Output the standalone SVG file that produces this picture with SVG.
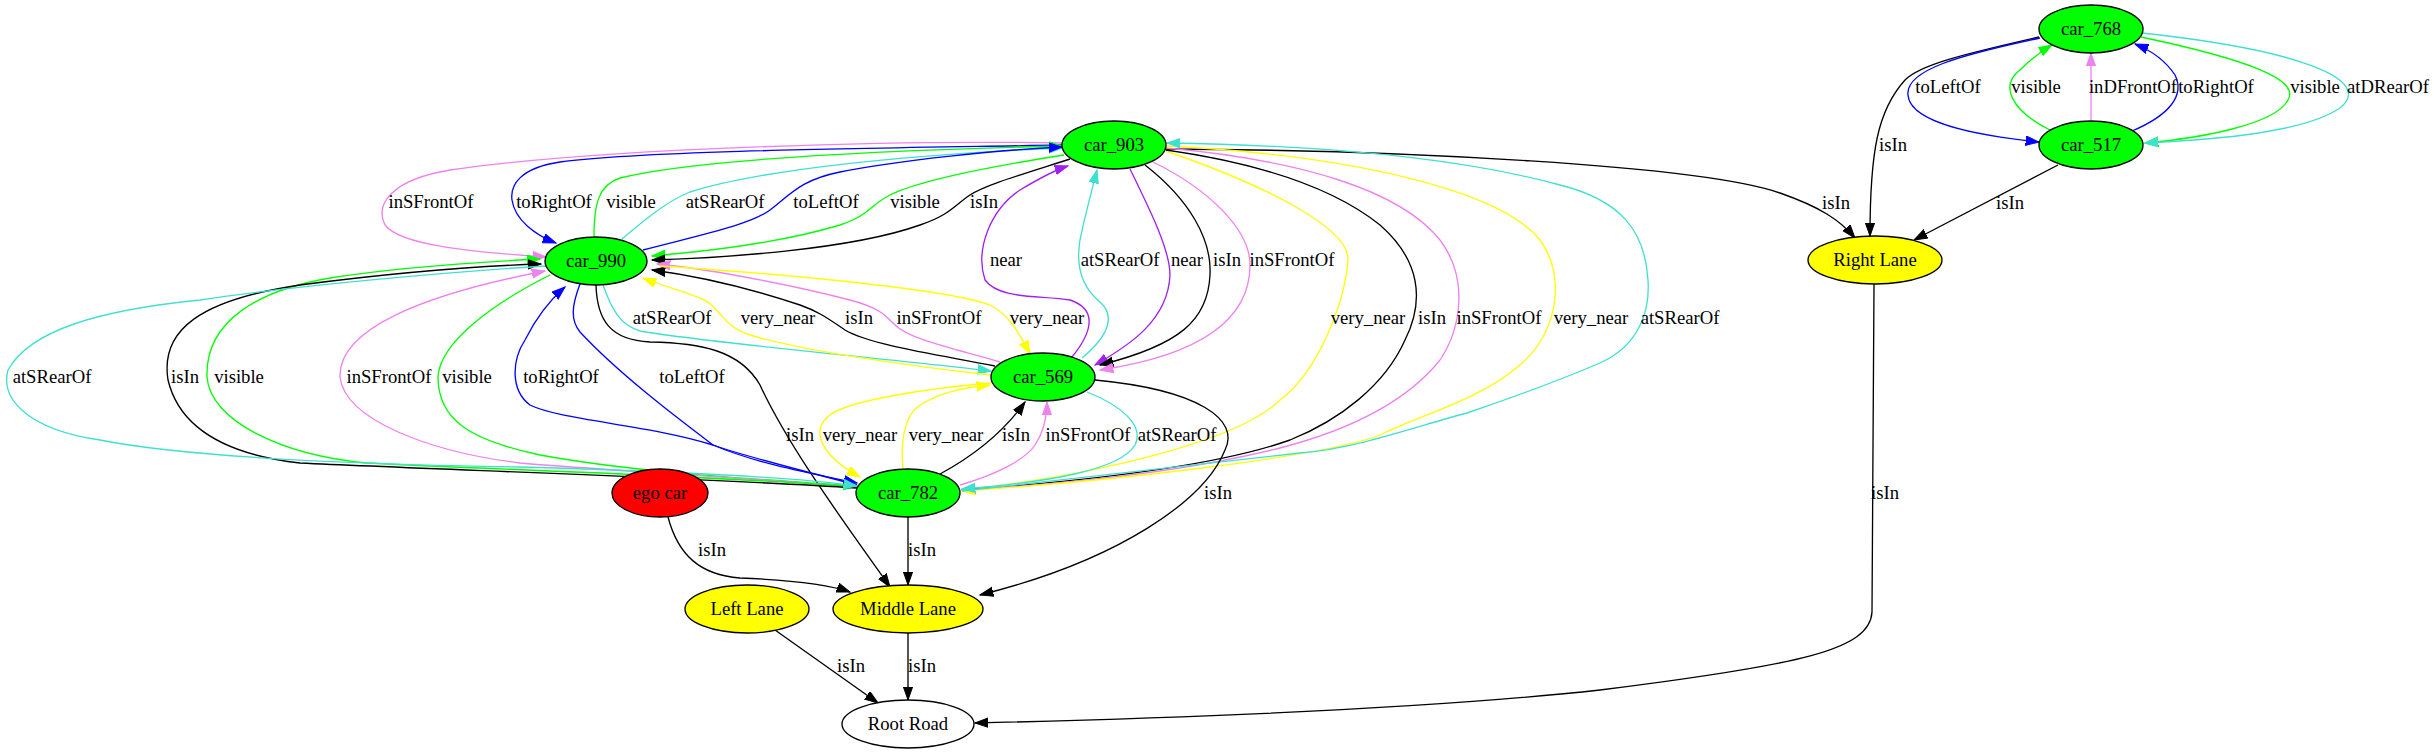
<svg xmlns="http://www.w3.org/2000/svg" width="2434" height="755" viewBox="0 0 2434 755">
<style>
text{font-family:"Liberation Serif","Times New Roman",serif;font-size:18.67px;text-anchor:middle;fill:#000}
.n ellipse{stroke:#000;stroke-width:1.33}
.e path{fill:none;stroke-width:1.33}
.k{stroke:#000;marker-end:url(#ak)}
.b{stroke:#0000ff;marker-end:url(#ab)}
.g{stroke:#00ff00;marker-end:url(#ag)}
.v{stroke:#ee82ee;marker-end:url(#av)}
.c{stroke:#40e0d0;marker-end:url(#ac)}
.y{stroke:#ffff00;marker-end:url(#ay)}
.p{stroke:#a020f0;marker-end:url(#ap)}
</style>
<defs>
<marker id="ak" markerUnits="userSpaceOnUse" markerWidth="15" markerHeight="11" refX="13.3" refY="5" orient="auto"><path d="M0,0.3 L13.3,5 L0,9.7 z" fill="#000" stroke="#000"/></marker>
<marker id="ab" markerUnits="userSpaceOnUse" markerWidth="15" markerHeight="11" refX="13.3" refY="5" orient="auto"><path d="M0,0.3 L13.3,5 L0,9.7 z" fill="#0000ff" stroke="#0000ff"/></marker>
<marker id="ag" markerUnits="userSpaceOnUse" markerWidth="15" markerHeight="11" refX="13.3" refY="5" orient="auto"><path d="M0,0.3 L13.3,5 L0,9.7 z" fill="#00ff00" stroke="#00ff00"/></marker>
<marker id="av" markerUnits="userSpaceOnUse" markerWidth="15" markerHeight="11" refX="13.3" refY="5" orient="auto"><path d="M0,0.3 L13.3,5 L0,9.7 z" fill="#ee82ee" stroke="#ee82ee"/></marker>
<marker id="ac" markerUnits="userSpaceOnUse" markerWidth="15" markerHeight="11" refX="13.3" refY="5" orient="auto"><path d="M0,0.3 L13.3,5 L0,9.7 z" fill="#40e0d0" stroke="#40e0d0"/></marker>
<marker id="ay" markerUnits="userSpaceOnUse" markerWidth="15" markerHeight="11" refX="13.3" refY="5" orient="auto"><path d="M0,0.3 L13.3,5 L0,9.7 z" fill="#ffff00" stroke="#ffff00"/></marker>
<marker id="ap" markerUnits="userSpaceOnUse" markerWidth="15" markerHeight="11" refX="13.3" refY="5" orient="auto"><path d="M0,0.3 L13.3,5 L0,9.7 z" fill="#a020f0" stroke="#a020f0"/></marker>
</defs>
<rect width="2434" height="755" fill="#fff"/>
<g id="connectors" class="e">
<!-- car_768 / car_517 cluster -->
<path class="k" d="M2039,37 C1960,55 1920,65 1905,80 C1878,110 1870,150 1870,236"/>
<path class="b" d="M2040,38 C1960,55 1905,70 1908,95 C1910,125 1990,137 2039,142"/>
<path class="g" d="M2050,130 C2010,110 2000,85 2020,70 C2030,60 2040,52 2052,45"/>
<path class="v" d="M2091,120 L2091,53"/>
<path class="b" d="M2132,131 C2170,115 2185,95 2175,75 C2165,60 2150,50 2135,44"/>
<path class="g" d="M2141,37 C2250,60 2300,80 2288,100 C2275,125 2200,138 2145,143"/>
<path class="c" d="M2142,33 C2300,50 2375,80 2340,108 C2300,135 2200,140 2145,143"/>
<path class="k" d="M2058,165 L1914,240"/>
<path class="k" d="M1164,149 C1400,150 1700,165 1780,193 C1820,207 1840,220 1855,238"/>
<path class="k" d="M1874,284 L1872,612 C1870,650 1800,665 1600,690 C1400,712 1100,720 975,723"/>
<!-- car_903 <-> car_990 top arcs -->
<path class="v" d="M1062,143 C900,140 600,148 450,170 C390,180 375,205 385,225 C400,245 470,252 546,257"/>
<path class="b" d="M1062,145 C900,148 650,150 560,162 C520,168 510,185 512,200 C515,220 535,235 556,243"/>
<path class="g" d="M594,237 C594,205 598,185 620,178 C700,158 900,150 1062,146"/>
<path class="c" d="M622,239 C650,215 670,200 690,192 C760,170 900,155 1062,148"/>
<path class="b" d="M643,250 C700,235 750,225 770,210 C790,195 800,180 840,172 C900,160 1000,150 1062,147"/>
<path class="g" d="M1064,155 C1000,165 920,180 890,195 C870,205 870,215 840,225 C780,243 700,252 652,256"/>
<path class="k" d="M1070,159 C1020,175 985,185 970,195 C955,205 950,215 920,225 C850,250 720,258 652,260"/>
<!-- car_990 <-> car_569 -->
<path class="c" d="M603,285 C612,310 620,325 640,331 C700,342 900,360 991,371"/>
<path class="y" d="M991,375 C900,365 800,350 750,335 C720,325 720,305 700,298 C680,290 660,285 643,278"/>
<path class="k" d="M995,366 C940,355 870,345 845,330 C830,320 820,312 800,305 C740,285 690,275 652,270"/>
<path class="v" d="M1000,362 C960,350 910,340 895,325 C885,315 880,308 850,300 C780,282 700,268 657,264"/>
<path class="y" d="M660,266 C800,275 950,290 990,305 C1010,315 1020,335 1030,354"/>
<!-- car_903 <-> car_569 -->
<path class="p" d="M1072,357 C1090,335 1100,310 1070,300 C1040,295 1000,300 985,280 C975,250 990,210 1020,190 C1040,178 1055,170 1068,166"/>
<path class="c" d="M1082,358 C1110,335 1115,315 1100,302 C1085,290 1075,270 1080,240 C1085,215 1092,190 1097,170"/>
<path class="p" d="M1130,169 C1150,210 1170,250 1170,275 C1168,320 1130,345 1095,365"/>
<path class="k" d="M1145,165 C1190,200 1212,240 1210,275 C1208,320 1180,345 1100,365"/>
<path class="v" d="M1153,162 C1210,190 1250,230 1250,265 C1250,320 1200,355 1100,370"/>
<!-- car_903 <-> car_782 -->
<path class="y" d="M1166,151 C1250,180 1350,225 1348,260 C1345,300 1320,370 1280,400 C1240,440 1100,475 962,490"/>
<path class="k" d="M1166,150 C1250,162 1330,185 1380,225 C1420,260 1425,300 1405,340 C1385,385 1340,420 1290,440 C1220,465 1100,480 962,490"/>
<path class="v" d="M1166,148 C1300,160 1400,190 1440,240 C1470,280 1460,330 1440,360 C1400,410 1330,435 1280,448 C1200,468 1100,482 962,490"/>
<path class="y" d="M1166,146 C1350,155 1500,190 1540,240 C1565,275 1560,330 1520,365 C1480,400 1420,415 1380,435 C1320,458 1100,482 962,491"/>
<path class="c" d="M962,491 L1300,453 C1360,448 1420,425 1467,413 C1520,395 1560,380 1600,363 C1640,345 1650,310 1648,280 C1645,230 1620,200 1560,185 C1450,155 1300,145 1167,143"/>
<!-- car_569 <-> car_782 -->
<path class="y" d="M991,383 C930,388 850,400 830,415 C810,430 820,455 860,477"/>
<path class="y" d="M903,469 C900,440 905,415 920,405 C940,393 960,388 990,385"/>
<path class="k" d="M940,474 C975,455 1005,430 1025,402"/>
<path class="v" d="M960,485 C995,475 1025,460 1035,445 C1045,430 1047,415 1047,402"/>
<path class="c" d="M1087,392 C1120,405 1145,425 1135,445 C1120,470 1050,482 962,489"/>
<!-- lanes -->
<path class="k" d="M1095,380 C1200,390 1240,420 1225,450 C1205,500 1120,560 980,595"/>
<path class="k" d="M596,285 C597,320 610,340 650,342 C700,343 740,350 760,385 C790,450 850,530 890,587"/>
<path class="k" d="M908,517 L908,585"/>
<path class="k" d="M668,517 C678,555 700,575 740,578 C790,580 830,585 850,592"/>
<path class="k" d="M908,633 L908,700"/>
<path class="k" d="M775,630 L878,703"/>
<!-- car_990 <-> car_782 -->
<path class="b" d="M857,485 C800,470 740,455 713,445 C650,425 560,420 530,405 C510,390 512,360 525,340 C535,320 550,300 565,287"/>
<path class="b" d="M580,284 C572,305 570,320 580,332 C620,375 680,420 713,445 C760,465 820,475 857,483"/>
<path class="g" d="M550,275 C500,300 440,340 438,377 C438,420 470,440 540,455 C650,475 780,480 857,486"/>
<path class="v" d="M857,487 C750,478 600,470 520,463 C430,452 345,420 340,377 C338,330 420,295 545,271"/>
<path class="g" d="M857,487 C700,475 500,470 367,463 C280,455 210,420 207,377 C205,320 260,290 330,278 C400,267 480,262 540,259"/>
<path class="k" d="M857,488 C700,478 450,470 300,463 C230,455 180,430 168,380 C160,330 200,300 300,285 C400,272 480,266 541,264"/>
<path class="c" d="M546,266 C450,272 300,285 200,300 C100,310 30,330 8,370 C0,400 30,430 100,440 C200,460 400,465 520,467 C700,472 800,478 857,486"/>
</g>
<g id="edge-labels">
<text x="1893" y="151">isIn</text>
<text x="1948" y="93">toLeftOf</text>
<text x="2036" y="93">visible</text>
<text x="2133" y="93">inDFrontOf</text>
<text x="2216" y="93">toRightOf</text>
<text x="2315" y="93">visible</text>
<text x="2388" y="93">atDRearOf</text>
<text x="2010" y="209">isIn</text>
<text x="1836" y="209">isIn</text>
<text x="1885" y="499">isIn</text>
<text x="431" y="208">inSFrontOf</text>
<text x="554" y="208">toRightOf</text>
<text x="631" y="208">visible</text>
<text x="725" y="208">atSRearOf</text>
<text x="826" y="208">toLeftOf</text>
<text x="915" y="208">visible</text>
<text x="984" y="208">isIn</text>
<text x="672" y="324">atSRearOf</text>
<text x="778" y="324">very_near</text>
<text x="859" y="324">isIn</text>
<text x="939" y="324">inSFrontOf</text>
<text x="1047" y="324">very_near</text>
<text x="1006" y="266">near</text>
<text x="1120" y="266">atSRearOf</text>
<text x="1187" y="266">near</text>
<text x="1227" y="266">isIn</text>
<text x="1292" y="266">inSFrontOf</text>
<text x="1368" y="324">very_near</text>
<text x="1432" y="324">isIn</text>
<text x="1499" y="324">inSFrontOf</text>
<text x="1591" y="324">very_near</text>
<text x="1680" y="324">atSRearOf</text>
<text x="860" y="441">very_near</text>
<text x="946" y="441">very_near</text>
<text x="1016" y="441">isIn</text>
<text x="1088" y="441">inSFrontOf</text>
<text x="1177" y="441">atSRearOf</text>
<text x="1218" y="499">isIn</text>
<text x="800" y="441">isIn</text>
<text x="922" y="556">isIn</text>
<text x="712" y="556">isIn</text>
<text x="922" y="672">isIn</text>
<text x="851" y="672">isIn</text>
<text x="561" y="383">toRightOf</text>
<text x="692" y="383">toLeftOf</text>
<text x="467" y="383">visible</text>
<text x="389" y="383">inSFrontOf</text>
<text x="239" y="383">visible</text>
<text x="185" y="383">isIn</text>
<text x="52" y="383">atSRearOf</text>
</g>
<g id="car_768" class="n"><ellipse cx="2091" cy="29" rx="52" ry="24" fill="#00ff00"/><text x="2091" y="35">car_768</text></g>
<g id="car_517" class="n"><ellipse cx="2091" cy="145" rx="52" ry="24" fill="#00ff00"/><text x="2091" y="151">car_517</text></g>
<g id="right_lane" class="n"><ellipse cx="1875" cy="260" rx="67" ry="24" fill="#ffff00"/><text x="1875" y="266">Right Lane</text></g>
<g id="car_903" class="n"><ellipse cx="1114" cy="145" rx="52" ry="24" fill="#00ff00"/><text x="1114" y="151">car_903</text></g>
<g id="car_990" class="n"><ellipse cx="596" cy="261" rx="51" ry="24" fill="#00ff00"/><text x="596" y="267">car_990</text></g>
<g id="car_569" class="n"><ellipse cx="1043" cy="377" rx="52" ry="24" fill="#00ff00"/><text x="1043" y="383">car_569</text></g>
<g id="car_782" class="n"><ellipse cx="908" cy="493" rx="52" ry="24" fill="#00ff00"/><text x="908" y="499">car_782</text></g>
<g id="ego_car" class="n"><ellipse cx="660" cy="493" rx="48" ry="24" fill="#ff0000"/><text x="660" y="499">ego car</text></g>
<g id="left_lane" class="n"><ellipse cx="747" cy="609" rx="62" ry="24" fill="#ffff00"/><text x="747" y="615">Left Lane</text></g>
<g id="middle_lane" class="n"><ellipse cx="908" cy="609" rx="75" ry="24" fill="#ffff00"/><text x="908" y="615">Middle Lane</text></g>
<g id="root_road" class="n"><ellipse cx="908" cy="724" rx="66" ry="24" fill="#ffffff"/><text x="908" y="730">Root Road</text></g>
</svg>
